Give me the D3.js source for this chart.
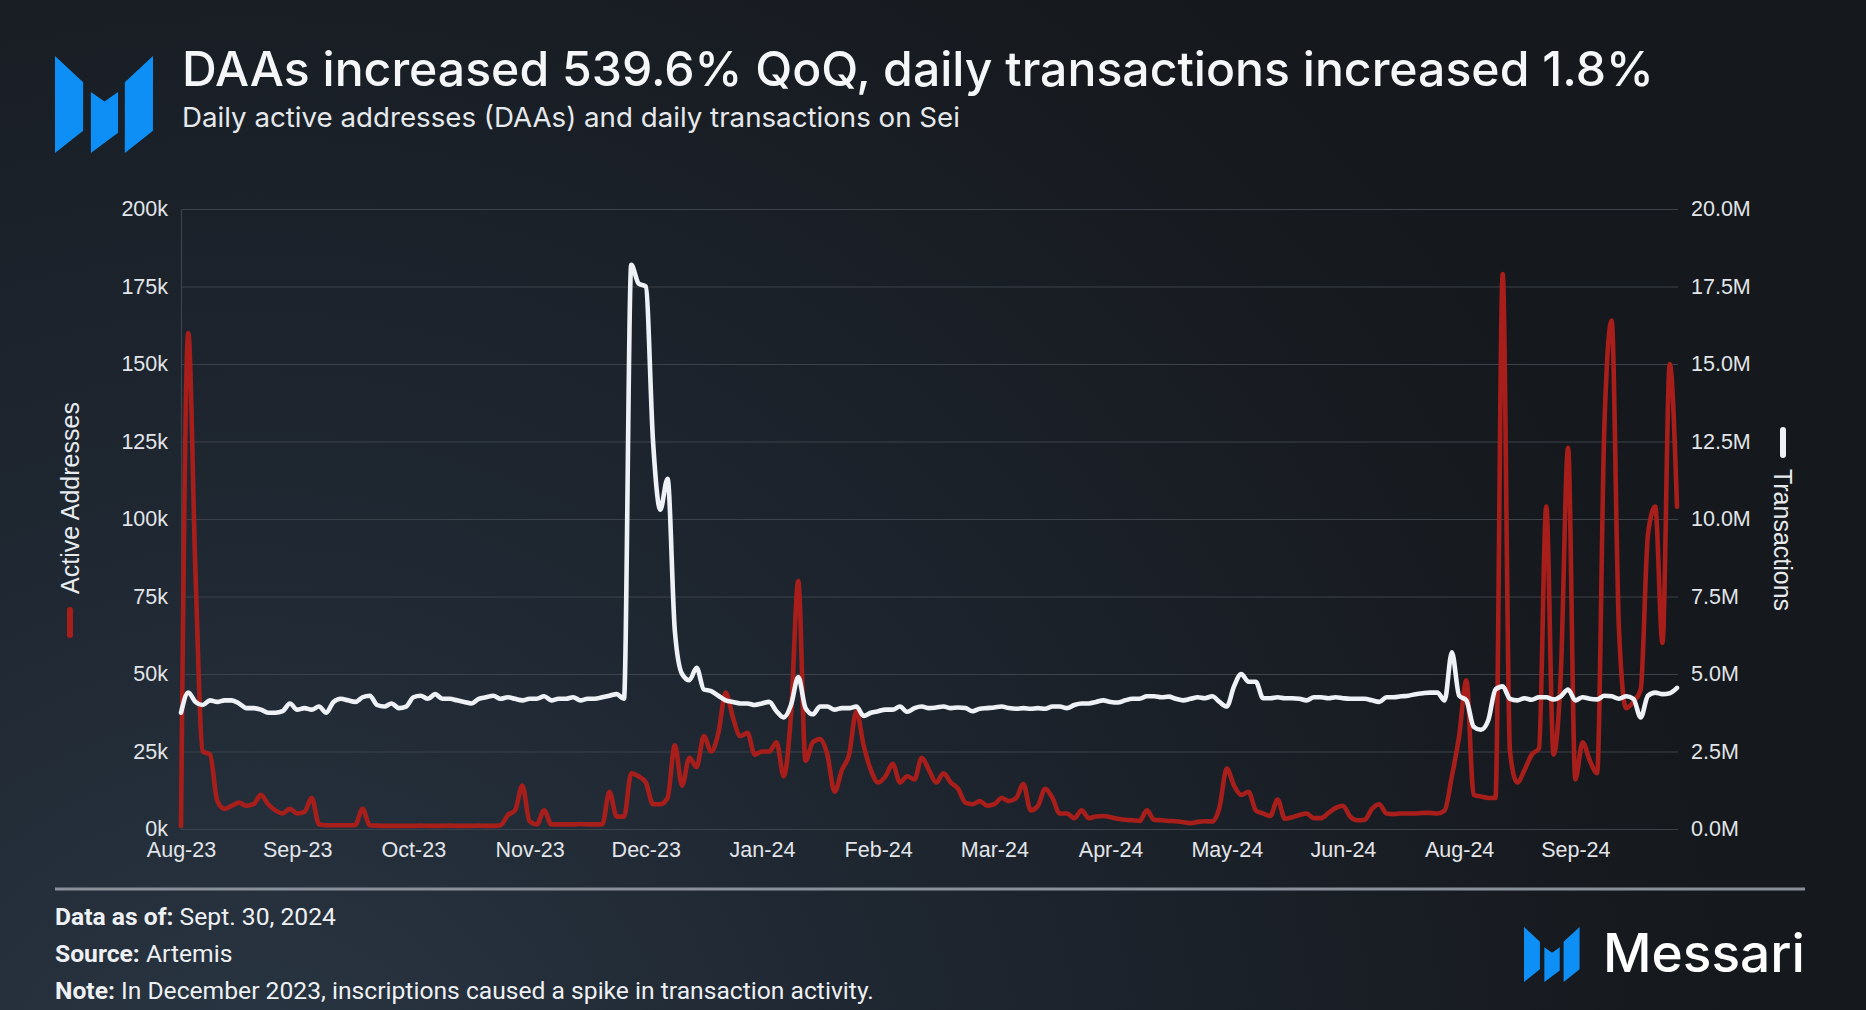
<!DOCTYPE html>
<html><head><meta charset="utf-8">
<script src="https://cdn.jsdelivr.net/npm/d3@7"></script>
<style>html,body{margin:0;padding:0;background:#181c21;overflow:hidden}</style>
</head><body>
<svg id="c" width="1866" height="1010"></svg>
<script>
// ---------- DATA ----------
const tickLabels = ["Aug-23","Sep-23","Oct-23","Nov-23","Dec-23","Jan-24","Feb-24","Mar-24","Apr-24","May-24","Jun-24","Aug-24","Sep-24"];
const tickDays = [0,32,64,96,128,160,192,224,256,288,320,352,384];
const dayStep = 2; // one sample every 2 days, starting mid-Aug 2023
// Daily active addresses, thousands
const activeAddressesK = [
  1,160,82,25,24,9,6.5,7.5,8.5,7.5,
  8,11,8,6,5,6.5,5,5.5,10,1.5,
  1.2,1.2,1.2,1.2,1.3,6.5,1.2,1.1,1.0,1.0,
  1.0,1.0,1.0,1.1,1.0,1.0,1.0,1.1,1.0,1.0,
  1.0,1.1,1.0,1.0,1.2,4.5,6,14,2.5,1.5,
  6,1.5,1.5,1.5,1.5,1.6,1.5,1.5,1.5,12,
  4,4,18,17,15,8,8,10,27,14,
  23,20,30,25,31,44,36,30,31,24,
  25,25,28,17,37,80,22,28,29,24,
  12,19,24,38,27,19,15,17,21,15,
  17,16,23,19,15,18,15,13,8.5,8,
  9,7.5,8,10,9,10,14.5,6,7.5,13,
  10,5,5,3.5,6,3.5,4,4.2,3.8,3.3,
  3,2.8,2.6,6,3,2.8,2.6,2.5,2.2,1.9,
  2.3,2.5,2.4,7,19.5,14,11,12,6,5,
  4.2,9.5,3.3,3.8,4.5,5,3.5,3.5,5.2,6.8,
  7.5,4,2.8,3,6.5,8,5,4.8,5,5,
  5,5.2,5.2,5,6,17,30,48,11,10.5,
  10,10,179,25,15,19,24,26,104,24,
  50,123,16,28,22,18,130,164,65,39,
  41,45,95,104,60,150,104
];
// Daily transactions, millions
const transactionsM = [
  3.75,4.4,4.1,4.0,4.15,4.1,4.15,4.15,4.05,3.9,
  3.9,3.85,3.75,3.75,3.8,4.05,3.85,3.9,3.85,3.95,
  3.75,4.1,4.2,4.15,4.1,4.25,4.3,4.0,3.95,4.05,
  3.9,3.95,4.25,4.3,4.2,4.35,4.2,4.2,4.15,4.1,
  4.05,4.2,4.25,4.3,4.2,4.25,4.2,4.15,4.2,4.2,
  4.28,4.15,4.2,4.2,4.25,4.15,4.2,4.2,4.25,4.3,
  4.35,4.2,18.2,17.6,17.5,12.5,10.3,11.3,6.4,5.0,
  4.8,5.2,4.5,4.45,4.3,4.15,4.1,4.05,4.05,4.0,
  4.05,4.1,3.8,3.6,4.0,4.9,3.9,3.7,3.95,3.95,
  3.85,3.9,3.9,3.95,3.65,3.75,3.8,3.85,3.85,3.95,
  3.78,3.9,3.95,3.9,3.92,3.95,3.9,3.92,3.9,3.8,
  3.88,3.9,3.92,3.95,3.9,3.88,3.9,3.88,3.9,3.88,
  3.95,3.95,3.9,4.0,4.05,4.05,4.1,4.15,4.1,4.08,
  4.15,4.2,4.2,4.28,4.28,4.25,4.27,4.2,4.15,4.2,
  4.25,4.22,4.28,4.1,3.95,4.6,5.0,4.75,4.75,4.22,
  4.22,4.25,4.22,4.22,4.2,4.15,4.25,4.25,4.22,4.25,
  4.22,4.2,4.2,4.2,4.15,4.1,4.25,4.25,4.28,4.3,
  4.35,4.38,4.4,4.4,4.15,5.7,4.3,4.15,3.3,3.2,
  3.5,4.5,4.6,4.2,4.15,4.22,4.17,4.25,4.25,4.18,
  4.28,4.5,4.15,4.25,4.2,4.18,4.3,4.28,4.2,4.28,
  4.2,3.6,4.3,4.4,4.35,4.38,4.55
];
const leftTicks = [0,25,50,75,100,125,150,175,200];
const rightTicks = [0,2.5,5,7.5,10,12.5,15,17.5,20];

// ---------- LAYOUT ----------
const W = 1866, H = 1010;
const plot = {left:181, right:1678, top:209, bottom:829};
const svg = d3.select('#c');
const defs = svg.append('defs');
const bg = defs.append('radialGradient').attr('id','bg')
  .attr('gradientUnits','userSpaceOnUse').attr('cx',250).attr('cy',1150).attr('r',1500);
bg.append('stop').attr('offset','0%').attr('stop-color','#2a3744');
bg.append('stop').attr('offset','45%').attr('stop-color','#1e2630');
bg.append('stop').attr('offset','100%').attr('stop-color','#15181c');
svg.append('rect').attr('width',W).attr('height',H).attr('fill','url(#bg)');

// logo
function logo(g, x0, y0, s, color){
  const pieces = [
    [[0,0],[29,27],[29,77],[0,100]],
    [[37,37],[51,47],[65,37],[65,79],[37,100]],
    [[72,27],[101,0],[101,77],[72,100]]
  ];
  const gg = g.append('g').attr('transform',`translate(${x0},${y0}) scale(${s})`);
  pieces.forEach(p => gg.append('polygon').attr('points', p.map(q=>q.join(',')).join(' ')).attr('fill', color));
}
logo(svg, 55, 56, 0.97, '#0d8ff5');

function fit(sel, target){
  const fs = parseFloat(sel.attr('font-size'));
  const w = sel.node().getComputedTextLength();
  sel.attr('font-size', (fs*target/w).toFixed(2));
}

const title = svg.append('text').attr('x',182).attr('y',86)
  .attr('font-family','Inter, "Noto Sans", sans-serif').attr('font-size',48).attr('font-weight',500)
  .attr('fill','#f4f6f8').text('DAAs increased 539.6% QoQ, daily transactions increased 1.8%');
fit(title, 1472);
const sub = svg.append('text').attr('x',182).attr('y',127)
  .attr('font-family','Inter, "Noto Sans", sans-serif').attr('font-size',26)
  .attr('fill','#e6e9ec').text('Daily active addresses (DAAs) and daily transactions on Sei');
fit(sub, 778);

// scales
const xMax = (activeAddressesK.length-1)*dayStep;
const x = d3.scaleLinear().domain([0, xMax]).range([181, 1677]);
const yL = d3.scaleLinear().domain([0, 200]).range([plot.bottom, plot.top]);
const yR = d3.scaleLinear().domain([0, 20]).range([plot.bottom, plot.top]);

const tickFont = '"Liberation Sans", Arial, sans-serif';
const gridColor = '#3c434b';
const tickSize = 21.5;

// left axis with gridlines
const gL = svg.append('g').attr('transform',`translate(${plot.left},0)`)
  .call(d3.axisLeft(yL).tickValues(leftTicks).tickFormat(d=>d+'k')
    .tickSize(-(plot.right-plot.left)).tickSizeOuter(0).tickPadding(13));
gL.select('.domain').attr('stroke', gridColor).attr('stroke-width',1.2);
gL.selectAll('.tick line').attr('stroke', gridColor).attr('stroke-width',1.2);
gL.selectAll('.tick text').attr('fill','#e2e5e9').attr('font-family',tickFont).attr('font-size',tickSize);

// right axis
const gR = svg.append('g').attr('transform',`translate(${plot.right},0)`)
  .call(d3.axisRight(yR).tickValues(rightTicks).tickFormat(d=>d3.format('.1f')(d)+'M')
    .tickSize(0).tickPadding(13));
gR.select('.domain').remove();
gR.selectAll('.tick text').attr('fill','#e2e5e9').attr('font-family',tickFont).attr('font-size',tickSize);

// x axis
const gX = svg.append('g').attr('transform',`translate(0,${plot.bottom})`)
  .call(d3.axisBottom(x).tickValues(tickDays).tickFormat((d,i)=>tickLabels[i]).tickSize(0).tickPadding(13));
gX.select('.domain').remove();
gX.selectAll('.tick text').attr('fill','#e2e5e9').attr('font-family',tickFont).attr('font-size',tickSize);

// lines
const lineL = d3.line().x((d,i)=>x(i*dayStep)).y(d=>yL(d)).curve(d3.curveMonotoneX);
const lineR = d3.line().x((d,i)=>x(i*dayStep)).y(d=>yR(d)).curve(d3.curveMonotoneX);
svg.append('path').datum(activeAddressesK).attr('d',lineL).attr('fill','none')
  .attr('stroke','#a81e1b').attr('stroke-width',4.6).attr('stroke-linejoin','round').attr('stroke-linecap','round');
svg.append('path').datum(transactionsM).attr('d',lineR).attr('fill','none')
  .attr('stroke','#eef2f6').attr('stroke-width',4.6).attr('stroke-linejoin','round').attr('stroke-linecap','round');

// legends / axis titles
svg.append('text').attr('transform','translate(79,498) rotate(-90)').attr('text-anchor','middle')
  .attr('font-family',tickFont).attr('font-size',25).attr('fill','#e8ebee').text('Active Addresses');
svg.append('rect').attr('x',67).attr('y',607).attr('width',6).attr('height',31).attr('rx',3).attr('fill','#a81e1b');
svg.append('text').attr('transform','translate(1774,540) rotate(90)').attr('text-anchor','middle')
  .attr('font-family',tickFont).attr('font-size',25).attr('fill','#e8ebee').text('Transactions');
svg.append('rect').attr('x',1780).attr('y',427).attr('width',6).attr('height',31).attr('rx',3).attr('fill','#eef2f6');

// footer
svg.append('line').attr('x1',55).attr('x2',1805).attr('y1',889).attr('y2',889)
  .attr('stroke','#8a9099').attr('stroke-width',3);
const footFont = 'Roboto, "Liberation Sans", sans-serif';
const foot = [
  ['Data as of:', ' Sept. 30, 2024', 925],
  ['Source:', ' Artemis', 962],
  ['Note:', ' In December 2023, inscriptions caused a spike in transaction activity.', 999]
];
const ft = foot.map(f => {
  const t = svg.append('text').attr('x',55).attr('y',f[2]).attr('font-family',footFont)
    .attr('font-size',22).attr('fill','#eef0f3');
  t.append('tspan').attr('font-weight',700).text(f[0]);
  t.append('tspan').text(f[1]);
  return t;
});
{
  const w = ft[2].node().getComputedTextLength();
  const fs = (22*819/w).toFixed(2);
  ft.forEach(t => t.attr('font-size', fs));
}
logo(svg, 1524, 927, 0.55, '#0d8ff5');
const brand = svg.append('text').attr('x',1603).attr('y',972)
  .attr('font-family','Inter, "Noto Sans", sans-serif').attr('font-size',54).attr('font-weight',500)
  .attr('fill','#ffffff').text('Messari');
fit(brand, 202);
</script>
</body></html>
